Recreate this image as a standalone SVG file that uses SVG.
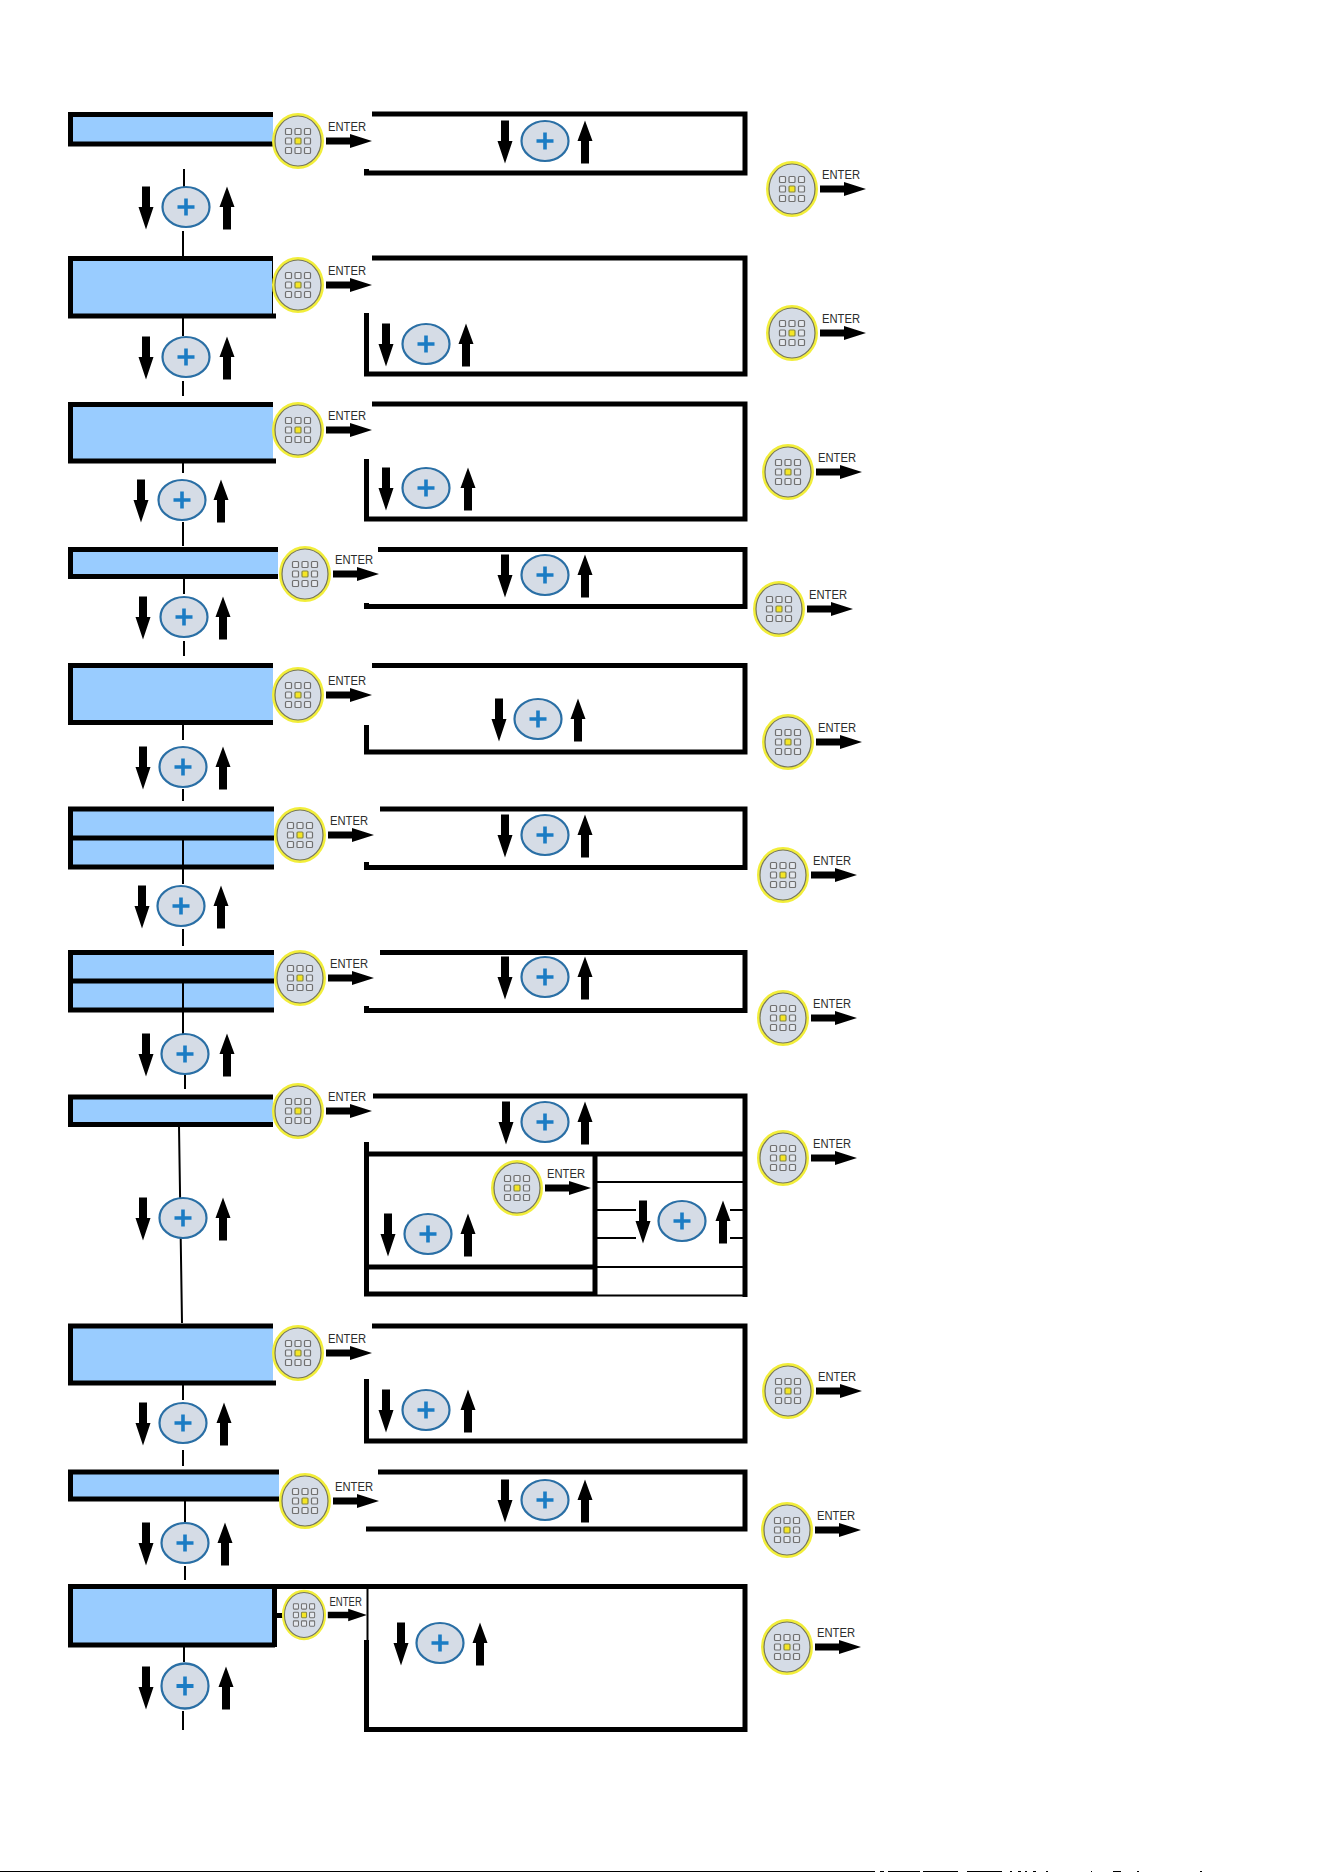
<svg xmlns="http://www.w3.org/2000/svg" xmlns:xlink="http://www.w3.org/1999/xlink" width="1324" height="1872" viewBox="0 0 1324 1872">
<style>
.fill{fill:#99ccff}
.blk{fill:#000}
.wht{fill:#fff}
.box{fill:none;stroke:#000;stroke-width:5}
.th{fill:none;stroke:#000;stroke-width:2}
.m{fill:none;stroke:#000;stroke-width:2}
.key{fill:#e4e8ee;stroke:#707070;stroke-width:1.2}
.lab{font-family:"Liberation Sans",Arial,sans-serif;font-size:13.5px;fill:#2b2b2b}
</style>
<defs>
<g id="enter">
<ellipse rx="24.5" ry="26.5" fill="#d5dce6" stroke="#f2ee3a" stroke-width="3"/>
<ellipse rx="23" ry="25" fill="none" stroke="#77775a" stroke-width="1.2"/>
<g class="key">
<rect x="-12.500" y="-12.500" width="6" height="6" rx="1"/><rect x="-3" y="-12.500" width="6" height="6" rx="1"/><rect x="6.500" y="-12.500" width="6" height="6" rx="1"/>
<rect x="-12.500" y="-3" width="6" height="6" rx="1"/><rect x="-3" y="-3" width="6" height="6" rx="1" fill="#f5e625" stroke="#8a8a40"/><rect x="6.500" y="-3" width="6" height="6" rx="1"/>
<rect x="-12.500" y="6.500" width="6" height="6" rx="1"/><rect x="-3" y="6.500" width="6" height="6" rx="1"/><rect x="6.500" y="6.500" width="6" height="6" rx="1"/>
</g>
<text class="lab" x="30" y="-10" textLength="38" lengthAdjust="spacingAndGlyphs">ENTER</text>
<path class="blk" d="M28-3.500H52V-7L74 0 52 7V3.500H28Z"/>
</g>
<g id="plus">
<ellipse rx="23.5" ry="20" fill="#d5dce6" stroke="#2a6fa5" stroke-width="2.2"/>
<path d="M-8.500 0H8.500M0-8.500V8.500" stroke="#1b7cc4" stroke-width="3.600" fill="none"/>
</g>
<path id="dn" class="blk" d="M-4-21.500H4V-1H7.500L0 21.500-7.500-1H-4Z"/>
<path id="up" class="blk" d="M-4 21.500H4V-1H7.500L0-21.500-7.500-1H-4Z"/>
</defs>

<g id="connectors">
<path class="m" d="M184 169V188M183 231V256M183 312V336M183 381V396M183 463V473M183 522V546M184 578V594M184 641V656M183 719V740M183 789V801M183 838V884M183 929V946M183 981V1035M185 1073V1089M179 1126L182 1323M183 1379V1400M183 1450V1466M185 1501V1522M185 1566V1580M184 1641V1662M183 1711V1730"/>
</g>

<g id="row1">
<rect class="fill" x="73" y="117" width="200" height="25"/><path class="box" d="M273 114.500H70.500V144H273"/>
<path class="box" d="M372 114H745V173H366.500V169"/>
<rect class="wht" x="273" y="112" width="99" height="56"/>
<use href="#enter" x="298" y="141"/>
<g id="row1-plus"><use href="#plus" x="186" y="207"/><use href="#dn" x="146" y="208"/><use href="#up" x="227" y="208"/></g>
<g id="row1-rplus"><use href="#plus" x="545" y="141"/><use href="#dn" x="505" y="142"/><use href="#up" x="585" y="142"/></g>
<use href="#enter" x="792" y="189"/>
</g>

<g id="row2">
<rect class="fill" x="73" y="260" width="200" height="54"/><path class="box" d="M276 316H70.500V258.500H273"/><path d="M272.500 260V316" stroke="#000" stroke-width="1"/>
<path class="box" d="M372 258H745V374H366.500V313"/>
<use href="#enter" x="298" y="285"/>
<g id="row2-plus"><use href="#plus" x="186" y="357"/><use href="#dn" x="146" y="358"/><use href="#up" x="227" y="358"/></g>
<g id="row2-rplus"><use href="#plus" x="426" y="344"/><use href="#dn" x="386" y="345"/><use href="#up" x="466" y="345"/></g>
<use href="#enter" x="792" y="333"/>
</g>

<g id="row3">
<rect class="fill" x="73" y="406" width="200" height="54"/><path class="box" d="M276 461H70.500V404.500H273"/>
<path class="box" d="M372 404H745V519H366.500V459"/>
<use href="#enter" x="298" y="430"/>
<g id="row3-plus"><use href="#plus" x="182" y="500"/><use href="#dn" x="141" y="501"/><use href="#up" x="221" y="501"/></g>
<g id="row3-rplus"><use href="#plus" x="426" y="488"/><use href="#dn" x="386" y="489"/><use href="#up" x="468" y="489"/></g>
<use href="#enter" x="788" y="472"/>
</g>

<g id="row4">
<rect class="fill" x="73" y="552" width="205" height="24"/><path class="box" d="M278 549.500H70.500V576.500H278"/>
<path class="box" d="M378 549.500H745V606.500H366.500V603"/>
<use href="#enter" x="305" y="574"/>
<g id="row4-plus"><use href="#plus" x="184" y="617"/><use href="#dn" x="143" y="618"/><use href="#up" x="223" y="618"/></g>
<g id="row4-rplus"><use href="#plus" x="545" y="575"/><use href="#dn" x="505" y="576"/><use href="#up" x="585" y="576"/></g>
<use href="#enter" x="779" y="609"/>
</g>

<g id="row5">
<rect class="fill" x="73" y="667" width="200" height="54"/><path class="box" d="M273 722.500H70.500V665.500H273"/>
<path class="box" d="M372 665.500H745V752H366.500V725"/>
<use href="#enter" x="298" y="695"/>
<g id="row5-plus"><use href="#plus" x="183" y="767"/><use href="#dn" x="143" y="768"/><use href="#up" x="223" y="768"/></g>
<g id="row5-rplus"><use href="#plus" x="538" y="719"/><use href="#dn" x="499" y="720"/><use href="#up" x="578" y="720"/></g>
<use href="#enter" x="788" y="742"/>
</g>

<g id="row6">
<rect class="fill" x="73" y="811" width="201" height="55"/><path class="box" d="M274 809H70.500V867H274M70 838H274"/>
<path class="m" d="M183 838V868"/>
<path class="box" d="M380 809H745V867.500H366.500V862"/>
<use href="#enter" x="300" y="835"/>
<g id="row6-plus"><use href="#plus" x="181" y="906"/><use href="#dn" x="142" y="907"/><use href="#up" x="221" y="907"/></g>
<g id="row6-rplus"><use href="#plus" x="545" y="835"/><use href="#dn" x="505" y="836"/><use href="#up" x="585" y="836"/></g>
<use href="#enter" x="783" y="875"/>
</g>

<g id="row7">
<rect class="fill" x="73" y="954" width="201" height="55"/><path class="box" d="M274 952.500H70.500V1010H274M70 981H274"/>
<path class="m" d="M183 981V1012"/>
<path class="box" d="M380 952.500H745V1010.500H366.500V1006"/>
<use href="#enter" x="300" y="978"/>
<g id="row7-plus"><use href="#plus" x="185" y="1054"/><use href="#dn" x="146" y="1055"/><use href="#up" x="227" y="1055"/></g>
<g id="row7-rplus"><use href="#plus" x="545" y="977"/><use href="#dn" x="505" y="978"/><use href="#up" x="585" y="978"/></g>
<use href="#enter" x="783" y="1018"/>
</g>

<g id="row8">
<rect class="fill" x="73" y="1099" width="200" height="25"/><path class="box" d="M273 1097H70.500V1124.500H273"/>
<path class="box" d="M373 1096H745V1297M366.500 1142V1294H597M366 1154H745M595 1154V1296M366 1267H595"/>
<path class="th" d="M597 1182H745M597 1210H636M730 1210H745M597 1238H636M730 1238H745M597 1267H745M597 1295.500H745"/>
<use href="#enter" x="298" y="1111"/>
<g id="row8-plus"><use href="#plus" x="183" y="1218"/><use href="#dn" x="143" y="1219"/><use href="#up" x="223" y="1219"/></g>
<g id="row8-rplus1"><use href="#plus" x="545" y="1122"/><use href="#dn" x="506" y="1123"/><use href="#up" x="585" y="1123"/></g>
<use href="#enter" x="517" y="1188"/>
<g id="row8-rplus2"><use href="#plus" x="428" y="1234"/><use href="#dn" x="388" y="1235"/><use href="#up" x="468" y="1235"/></g>
<g id="row8-rplus3"><use href="#plus" x="682" y="1221"/><use href="#dn" x="643" y="1222"/><use href="#up" x="723" y="1222"/></g>
<use href="#enter" x="783" y="1158"/>
</g>

<g id="row9">
<rect class="fill" x="73" y="1328" width="200" height="54"/><path class="box" d="M276 1383H70.500V1326H273"/>
<path class="box" d="M372 1326H745V1441H366.500V1379"/>
<use href="#enter" x="298" y="1353"/>
<g id="row9-plus"><use href="#plus" x="183" y="1423"/><use href="#dn" x="143" y="1424"/><use href="#up" x="224" y="1424"/></g>
<g id="row9-rplus"><use href="#plus" x="426" y="1410"/><use href="#dn" x="386" y="1411"/><use href="#up" x="468" y="1411"/></g>
<use href="#enter" x="788" y="1391"/>
</g>

<g id="row10">
<rect class="fill" x="73" y="1474" width="206" height="25"/><path class="box" d="M279 1472H70.500V1499H279"/>
<path class="box" d="M378 1472H745V1529H366"/>
<use href="#enter" x="305" y="1501"/>
<g id="row10-plus"><use href="#plus" x="185" y="1543"/><use href="#dn" x="146" y="1544"/><use href="#up" x="225" y="1544"/></g>
<g id="row10-rplus"><use href="#plus" x="545" y="1500"/><use href="#dn" x="505" y="1501"/><use href="#up" x="585" y="1501"/></g>
<use href="#enter" x="787" y="1530"/>
</g>

<g id="row11">
<rect class="fill" x="73" y="1589" width="199" height="54"/><path class="box" d="M275 1645H70.500V1586.500H745V1729.500H366.500V1640"/>
<path class="box" d="M274.500 1586V1647M275 1615.500H284"/>
<path d="M367.500 1589V1640" stroke="#000" stroke-width="2"/>
<g transform="translate(304 1615) scale(.85 .9)"><use href="#enter"/></g>
<g id="row11-plus"><use href="#plus" transform="translate(185 1686) scale(1 1.12)"/><use href="#dn" x="146" y="1688"/><use href="#up" x="226" y="1688"/></g>
<g id="row11-rplus"><use href="#plus" x="440" y="1643"/><use href="#dn" x="401" y="1644"/><use href="#up" x="480" y="1644"/></g>
<use href="#enter" x="787" y="1647"/>
</g>

<g id="page-edge">
<rect class="blk" x="0" y="1871" width="875" height="1"/>
<path class="blk" d="M880 1871h4v1h-4zM888 1871h32v1h-32zM923 1871h35v1h-35zM967 1871h35v1h-35zM1010 1871h2v1h-2zM1018 1871h3v1h-3zM1025 1871h2v1h-2zM1033 1871h3v1h-3zM1046 1871h2v1h-2zM1091 1871h1v1h-1zM1113 1871h8v1h-8zM1137 1871h2v1h-2zM1200 1871h2v1h-2z"/>
</g>
</svg>
